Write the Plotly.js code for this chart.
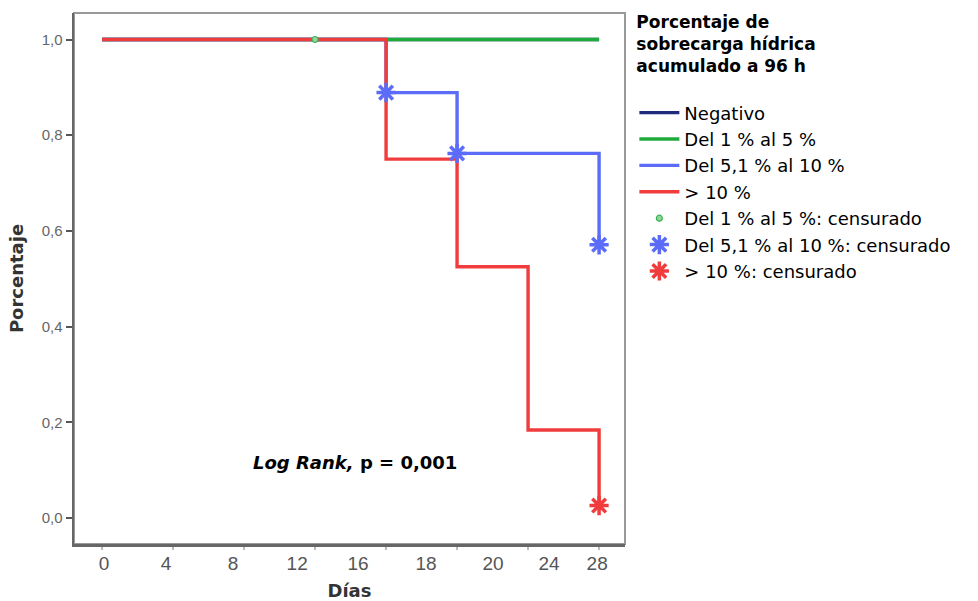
<!DOCTYPE html>
<html>
<head>
<meta charset="utf-8">
<script src="https://cdn.plot.ly/plotly-3.0.1.min.js"></script>
<style>html,body{margin:0;padding:0;background:#fff;}#chart{width:978px;height:601px;}</style>
</head>
<body>
<div id="chart"></div>
<script>
// ---- data (days vs. survival proportion) ----
const groupNames = ["Negativo", "Del 1 % al 5 %", "Del 5,1 % al 10 %", "> 10 %"];
const groupColors = ["#1f2a7a", "#1faa3c", "#5b6cf8", "#f03c3c"];

const negDays = [0, 28];
const negSurv = [1.0, 1.0];

const g1Days = [0, 28];
const g1Surv = [1.0, 1.0];

const g2Days = [0, 16, 20, 28];
const g2Surv = [1.0, 0.889, 0.762, 0.571];

const g3Days = [0, 16, 20, 24, 28];
const g3Surv = [1.0, 0.75, 0.525, 0.184, 0.026];

// censored observations
const g1CensDays = [12];
const g1CensSurv = [1.0];
const g2CensDays = [16, 20, 28];
const g2CensSurv = [0.889, 0.762, 0.571];
const g3CensDays = [28];
const g3CensSurv = [0.026];

// axis ticks
const yTickVals = [0, 0.2, 0.4, 0.6, 0.8, 1.0];
const xTickMarks = [0, 4, 8, 12, 16, 20, 24, 28];
const xTickLabels = ["0", "4", "8", "12", "16", "18", "20", "24", "28"];
const xTickLabelPos = [0.11, 3.61, 7.38, 10.99, 14.42, 18.25, 22.03, 25.18, 27.89];

function stepTrace(x, y, name, color) {
  return {x: x, y: y, name: name, type: "scatter", mode: "lines",
    line: {shape: "hv", color: color, width: 3.4}, hoverinfo: "skip"};
}
function censTrace(x, y, name, color) {
  return {x: x, y: y, name: name, type: "scatter", mode: "markers",
    marker: {symbol: "asterisk-open", size: 16, color: color, line: {color: color, width: 3.5}},
    hoverinfo: "skip"};
}

const traces = [
  stepTrace(negDays, negSurv, groupNames[0], groupColors[0]),
  stepTrace(g1Days, g1Surv, groupNames[1], groupColors[1]),
  stepTrace(g2Days, g2Surv, groupNames[2], groupColors[2]),
  stepTrace(g3Days, g3Surv, groupNames[3], groupColors[3]),
  {x: g1CensDays, y: g1CensSurv, name: groupNames[1] + ": censurado", type: "scatter", mode: "markers",
    marker: {symbol: "circle", size: 6, color: "#8fd69b", line: {color: "#3cb050", width: 1.2}}, hoverinfo: "skip"},
  censTrace(g2CensDays, g2CensSurv, groupNames[2] + ": censurado", groupColors[2]),
  censTrace(g3CensDays, g3CensSurv, groupNames[3] + ": censurado", groupColors[3]),
  // carrier for the relabelled day axis
  {x: xTickLabelPos, y: xTickLabelPos.map(() => null), xaxis: "x2", yaxis: "y", type: "scatter",
    mode: "markers", showlegend: false, hoverinfo: "skip", marker: {opacity: 0}}
];

const xRange = [-1.58, 29.46];
const titleFont = "DejaVu Sans, sans-serif";
const narrowFont = "Liberation Sans Narrow, Arial Narrow, Liberation Sans, sans-serif";
const layout = {
  width: 978, height: 601,
  margin: {l: 74, r: 353, t: 13, b: 57, autoexpand: false},
  paper_bgcolor: "#fff", plot_bgcolor: "#fff",
  separators: ",.",
  showlegend: true,
  font: {family: "Liberation Sans, Arial, sans-serif", color: "#000"},
  xaxis: {
    range: xRange, tickvals: xTickMarks, showticklabels: false,
    ticks: "outside", ticklen: 3, tickwidth: 1.5, tickcolor: "#bbb",
    showgrid: false, zeroline: false,
    showline: true, linecolor: "#666", linewidth: 2.5,
    title: {text: "<b>Días</b>", font: {size: 18, color: "#333", family: titleFont}, standoff: 40}
  },
  xaxis2: {
    range: xRange, overlaying: "x", anchor: "y", side: "bottom",
    tickvals: xTickLabelPos, ticktext: xTickLabels, ticks: "",
    ticklabelstandoff: 6,
    showgrid: false, zeroline: false, showline: false,
    tickfont: {size: 19, color: "#555", family: narrowFont}
  },
  yaxis: {
    range: [-0.0543, 1.0554], tickvals: yTickVals, tickformat: ".1f",
    ticks: "outside", ticklen: 6, tickwidth: 2, tickcolor: "#555",
    tickfont: {size: 15, color: "#666", family: narrowFont},
    showgrid: false, zeroline: false,
    showline: true, linecolor: "#666", linewidth: 2.5,
    title: {text: "<b>Porcentaje</b>", font: {size: 18, color: "#333", family: titleFont}, standoff: 14}
  },
  shapes: [{type: "rect", xref: "paper", yref: "paper", x0: 0, x1: 1, y0: 0, y1: 1,
    line: {color: "#999", width: 2}, layer: "below"}],
  annotations: [{
    xref: "x", yref: "y", x: 14.25, y: 0.117, showarrow: false,
    text: "<b><i>Log Rank,</i> p = 0,001</b>",
    font: {size: 18, color: "#000", family: titleFont}
  }],
  legend: {
    x: 1.017, y: 0.99, xanchor: "left", yanchor: "top", yref: "container",
    bgcolor: "rgba(0,0,0,0)",
    font: {size: 18, color: "#000", family: titleFont},
    title: {text: "<b>Porcentaje de<br>sobrecarga hídrica<br>acumulado a 96 h</b><br> ",
      font: {size: 17, color: "#000", family: titleFont}, side: "top"},
    itemwidth: 40, tracegroupgap: 0
  }
};

Plotly.newPlot("chart", traces, layout, {displayModeBar: false, staticPlot: true});
</script>
</body>
</html>
